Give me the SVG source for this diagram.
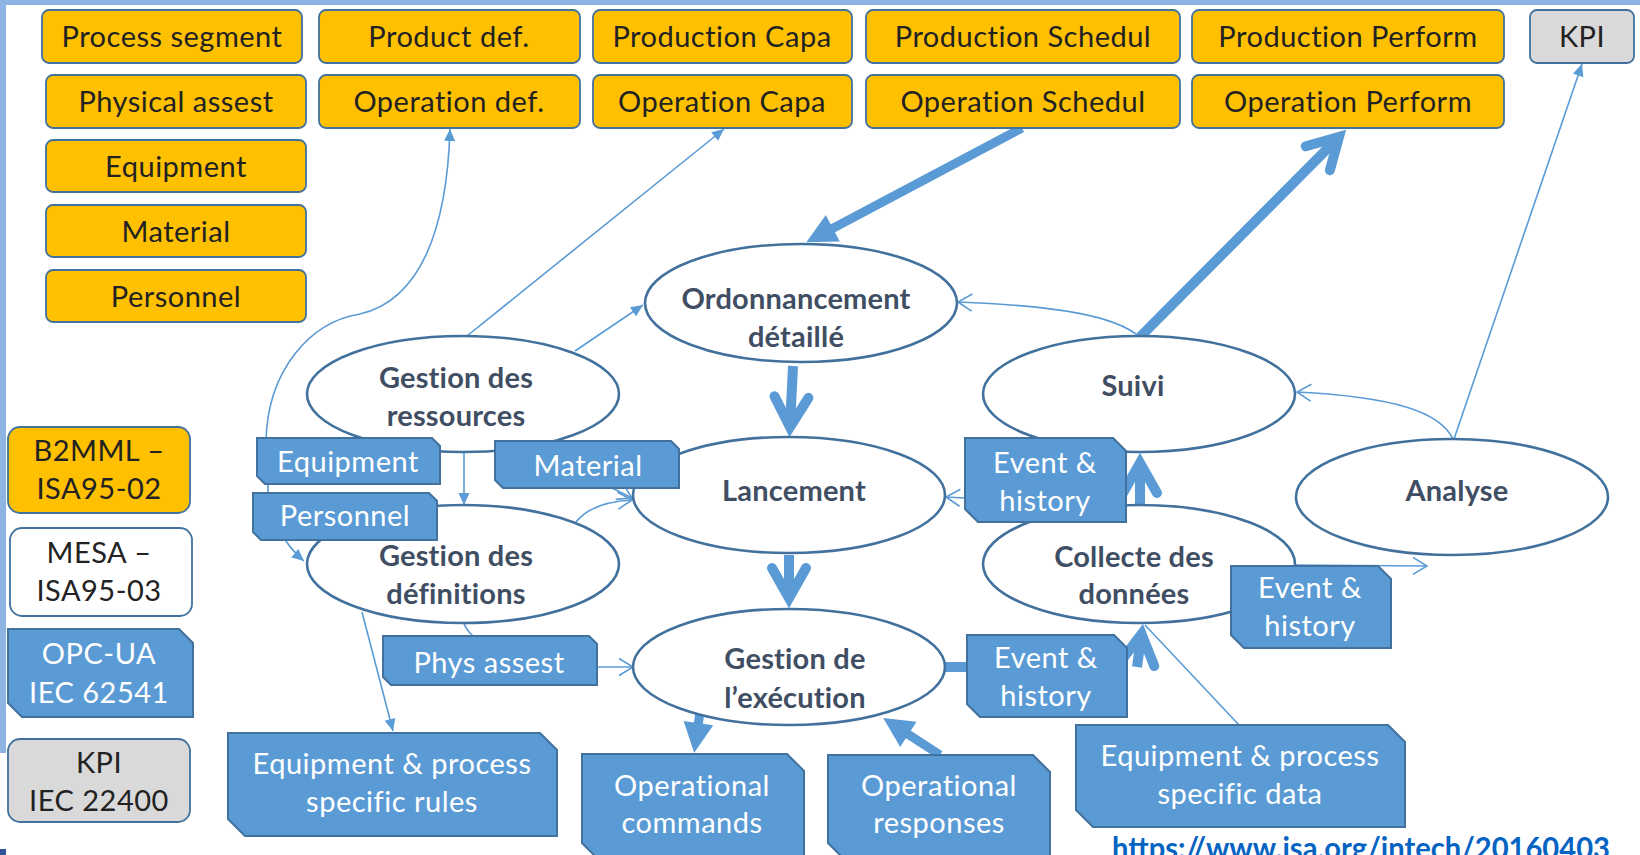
<svg xmlns="http://www.w3.org/2000/svg" width="1640" height="855" viewBox="0 0 1640 855">
  <style>
    text { font-family: Lato, "Liberation Sans", sans-serif; font-size: 29px; letter-spacing: 0.5px; text-anchor: middle; }
    .dark { fill: #222222; }
    .light { fill: #FFFFFF; }
    .fn { fill: #3F4E63; font-weight: bold; letter-spacing: 0.2px; }
    .org { fill: #FFC000; stroke: #41719C; stroke-width: 1.8; }
    .gry { fill: #D9D9D9; stroke: #41719C; stroke-width: 1.8; }
    .wht { fill: #FFFFFF; stroke: #41719C; stroke-width: 1.8; }
    .blu { fill: #5B9BD5; stroke: #41719C; stroke-width: 2; }
    .ell { fill: #FFFFFF; stroke: #41719C; stroke-width: 2.6; }
    .thin { fill: none; stroke: #5B9BD5; stroke-width: 1.6; }
    .thick { fill: none; stroke: #5B9BD5; stroke-width: 9; }
    .bar { fill: none; stroke: #5B9BD5; stroke-width: 10; }
    .url { fill: #0563C1; font-weight: bold; font-size: 30px; letter-spacing: 0; text-anchor: start; }
  </style>
  <defs>
    <marker id="st" viewBox="-14 -8 16 16" refX="0" refY="0" markerWidth="16" markerHeight="16" markerUnits="userSpaceOnUse" orient="auto-start-reverse">
      <path d="M-12,-5.5 L0,0 L-12,5.5 Z" fill="#5B9BD5"/>
    </marker>
    <marker id="sv" viewBox="-17 -11 20 22" refX="0" refY="0" markerWidth="20" markerHeight="22" markerUnits="userSpaceOnUse" orient="auto">
      <path d="M-14,-8.5 L0,0 L-14,8.5" fill="none" stroke="#5B9BD5" stroke-width="1.6"/>
    </marker>
    <marker id="tri" viewBox="-12 -17 34 34" refX="0" refY="0" markerWidth="34" markerHeight="34" markerUnits="userSpaceOnUse" orient="auto">
      <path d="M-10,-15 L20,0 L-10,15 Z" fill="#5B9BD5"/>
    </marker>
    <marker id="chev" viewBox="-40 -26 56 52" refX="0" refY="0" markerWidth="56" markerHeight="52" markerUnits="userSpaceOnUse" orient="auto" overflow="visible">
      <path d="M-30,-17 L0,0 L-30,17" fill="none" stroke="#5B9BD5" stroke-width="10" stroke-linecap="round" stroke-linejoin="miter" stroke-miterlimit="6"/>
    </marker>
  </defs>

  <rect width="1640" height="855" fill="#FFFFFF"/>
  <!-- slide frame -->
  <rect x="0" y="0" width="1640" height="5" fill="#8EB4E3"/>
  <rect x="0" y="0" width="6" height="753" fill="#8EB4E3"/>
  <rect x="0" y="849" width="6" height="6" fill="#2F5597"/>

  <g id="connectors">
    <!-- thin links -->
    <path class="thin" d="M467,336 L724,129" marker-end="url(#st)"/>
    <path class="thin" d="M575,351 L643,305" marker-end="url(#st)"/>
    <path class="thin" d="M450,129 C447,230 420,300 360,314 C310,322 268,370 266,440 L268,490 C270,520 285,545 304,561" marker-start="url(#st)" marker-end="url(#st)"/>
    <path class="thin" d="M464,452 L464,505" marker-end="url(#st)"/>
    <path class="thin" d="M608,486 L632,498" marker-end="url(#sv)"/>
    <path class="thin" d="M576,522 Q592,502 632,500" marker-end="url(#sv)"/>
    <path class="thin" d="M597,667 L633,667" marker-end="url(#sv)"/>
    <path class="thin" d="M463,621 Q466,630 473,636"/>
    <path class="thin" d="M362,612 L393,731" marker-end="url(#st)"/>
    <path class="thin" d="M965,498 L946,497" marker-end="url(#sv)"/>
    <path class="thin" d="M1140,337 C1115,316 1060,306 958,302" marker-end="url(#sv)"/>
    <path class="thin" d="M1453,439 C1440,412 1395,397 1297,392" marker-end="url(#sv)"/>
    <path class="thin" d="M1454,439 L1582,64" marker-end="url(#st)"/>
    <path class="thin" d="M1295,565 L1427,566" marker-end="url(#sv)"/>
    <path class="thin" d="M1239,725 L1145,625"/>
    <!-- thick flows -->
    <path class="thick" d="M1022,128 L824,233" marker-end="url(#tri)"/>
    <path class="bar" d="M1140,337 L1339,137" marker-end="url(#chev)"/>
    <path class="bar" d="M793,366 L790,427" marker-end="url(#chev)"/>
    <path class="bar" d="M789,555 L789,598" marker-end="url(#chev)"/>
    <path class="bar" d="M1140,505 L1140,463" marker-end="url(#chev)"/>
    <path class="bar" d="M1137,667 L1141.6,634" marker-end="url(#chev)"/>
    <path class="thick" d="M700,712 L697,733" marker-end="url(#tri)"/>
    <path class="thick" d="M940,755 L900,729" marker-end="url(#tri)"/>
    <path class="bar" d="M940,667 L970,667"/>
  </g>

  <!-- ISA-95 object boxes -->
  <g id="process-segment"><rect class="org" x="42" y="10" width="260" height="53" rx="7"/><text class="dark" x="172" y="47">Process segment</text></g>
  <g id="product-def"><rect class="org" x="319" y="10" width="261" height="53" rx="7"/><text class="dark" x="449" y="47">Product def.</text></g>
  <g id="production-capa"><rect class="org" x="593" y="10" width="259" height="53" rx="7"/><text class="dark" x="722" y="47">Production Capa</text></g>
  <g id="production-schedul"><rect class="org" x="866" y="10" width="314" height="53" rx="7"/><text class="dark" x="1023" y="47">Production Schedul</text></g>
  <g id="production-perform"><rect class="org" x="1192" y="10" width="312" height="53" rx="7"/><text class="dark" x="1348" y="47">Production Perform</text></g>
  <g id="kpi-top"><rect class="gry" x="1530" y="10" width="104" height="53" rx="7"/><text class="dark" x="1582" y="47">KPI</text></g>

  <g id="physical-assest"><rect class="org" x="46" y="75" width="260" height="53" rx="7"/><text class="dark" x="176" y="112">Physical assest</text></g>
  <g id="operation-def"><rect class="org" x="319" y="75" width="261" height="53" rx="7"/><text class="dark" x="449" y="112">Operation def.</text></g>
  <g id="operation-capa"><rect class="org" x="593" y="75" width="259" height="53" rx="7"/><text class="dark" x="722" y="112">Operation Capa</text></g>
  <g id="operation-schedul"><rect class="org" x="866" y="75" width="314" height="53" rx="7"/><text class="dark" x="1023" y="112">Operation Schedul</text></g>
  <g id="operation-perform"><rect class="org" x="1192" y="75" width="312" height="53" rx="7"/><text class="dark" x="1348" y="112">Operation Perform</text></g>

  <g id="equipment"><rect class="org" x="46" y="140" width="260" height="52" rx="7"/><text class="dark" x="176" y="177">Equipment</text></g>
  <g id="material"><rect class="org" x="46" y="205" width="260" height="52" rx="7"/><text class="dark" x="176" y="242">Material</text></g>
  <g id="personnel"><rect class="org" x="46" y="270" width="260" height="52" rx="7"/><text class="dark" x="176" y="307">Personnel</text></g>

  <!-- legend -->
  <g id="legend-b2mml"><rect class="org" x="8" y="427" width="182" height="86" rx="12"/><text class="dark" x="99" y="461">B2MML –</text><text class="dark" x="99" y="499">ISA95-02</text></g>
  <g id="legend-mesa"><rect class="wht" x="10" y="528" width="182" height="88" rx="12"/><text class="dark" x="99" y="563">MESA –</text><text class="dark" x="99" y="601">ISA95-03</text></g>
  <g id="legend-opcua"><path class="blu" d="M8,629 L179,629 L193,643 L193,717 L22,717 L8,703 Z"/><text class="light" x="99" y="664">OPC-UA</text><text class="light" x="99" y="703">IEC 62541</text></g>
  <g id="legend-kpi"><rect class="gry" x="8" y="739" width="182" height="83" rx="12"/><text class="dark" x="99" y="773">KPI</text><text class="dark" x="99" y="811">IEC 22400</text></g>

  <!-- MES functions -->
  <g id="ordonnancement"><ellipse class="ell" cx="801" cy="303" rx="156" ry="59"/><text class="fn" x="796" y="309">Ordonnancement</text><text class="fn" x="796" y="347">détaillé</text></g>
  <g id="gestion-ressources"><ellipse class="ell" cx="463" cy="394" rx="156" ry="58"/><text class="fn" x="456" y="388">Gestion des</text><text class="fn" x="456" y="426">ressources</text></g>
  <g id="suivi"><ellipse class="ell" cx="1139" cy="394" rx="156" ry="58"/><text class="fn" x="1133" y="396">Suivi</text></g>
  <g id="lancement"><ellipse class="ell" cx="789" cy="495" rx="156" ry="58"/><text class="fn" x="794" y="501">Lancement</text></g>
  <g id="analyse"><ellipse class="ell" cx="1452" cy="497" rx="156" ry="58"/><text class="fn" x="1457" y="501">Analyse</text></g>
  <g id="gestion-definitions"><ellipse class="ell" cx="463" cy="564" rx="156" ry="59"/><text class="fn" x="456" y="566">Gestion des</text><text class="fn" x="456" y="604">définitions</text></g>
  <g id="collecte"><ellipse class="ell" cx="1139" cy="564" rx="156" ry="59"/><text class="fn" x="1134" y="567">Collecte des</text><text class="fn" x="1134" y="604">données</text></g>
  <g id="gestion-execution"><ellipse class="ell" cx="789" cy="667" rx="156" ry="58"/><text class="fn" x="795" y="669">Gestion de</text><text class="fn" x="795" y="708">l’exécution</text></g>

  <!-- OPC-UA data objects -->
  <g id="ua-equipment"><path class="blu" d="M257,438 L432,438 L440,446 L440,484 L265,484 L257,476 Z"/><text class="light" x="348" y="472">Equipment</text></g>
  <g id="ua-material"><path class="blu" d="M495,441 L671,441 L679,449 L679,488 L503,488 L495,480 Z"/><text class="light" x="588" y="476">Material</text></g>
  <g id="ua-personnel"><path class="blu" d="M253,493 L429,493 L437,501 L437,540 L261,540 L253,532 Z"/><text class="light" x="345" y="526">Personnel</text></g>
  <g id="ua-phys-assest"><path class="blu" d="M383,636 L589,636 L597,644 L597,685 L391,685 L383,677 Z"/><text class="light" x="489" y="673">Phys assest</text></g>
  <g id="ua-event-1"><path class="blu" d="M965,438 L1113,438 L1126,451 L1126,522 L978,522 L965,509 Z"/><text class="light" x="1045" y="473">Event &amp;</text><text class="light" x="1045" y="511">history</text></g>
  <g id="ua-event-2"><path class="blu" d="M1231,566 L1378,566 L1391,579 L1391,648 L1244,648 L1231,635 Z"/><text class="light" x="1310" y="598">Event &amp;</text><text class="light" x="1310" y="636">history</text></g>
  <g id="ua-event-3"><path class="blu" d="M967,635 L1114,635 L1127,648 L1127,717 L980,717 L967,704 Z"/><text class="light" x="1046" y="668">Event &amp;</text><text class="light" x="1046" y="706">history</text></g>
  <g id="ua-rules"><path class="blu" d="M228,733 L540,733 L557,750 L557,836 L245,836 L228,819 Z"/><text class="light" x="392" y="774">Equipment &amp; process</text><text class="light" x="392" y="812">specific rules</text></g>
  <g id="ua-commands"><path class="blu" d="M582,754 L787,754 L804,771 L804,860 L599,860 L582,843 Z"/><text class="light" x="692" y="796">Operational</text><text class="light" x="692" y="833">commands</text></g>
  <g id="ua-responses"><path class="blu" d="M828,755 L1033,755 L1050,772 L1050,860 L845,860 L828,843 Z"/><text class="light" x="939" y="796">Operational</text><text class="light" x="939" y="833">responses</text></g>
  <g id="ua-data"><path class="blu" d="M1076,725 L1388,725 L1405,742 L1405,827 L1093,827 L1076,810 Z"/><text class="light" x="1240" y="766">Equipment &amp; process</text><text class="light" x="1240" y="804">specific data</text></g>

  <text class="url" x="1112" y="859" textLength="498" lengthAdjust="spacingAndGlyphs">https://www.isa.org/intech/20160403</text>
</svg>
